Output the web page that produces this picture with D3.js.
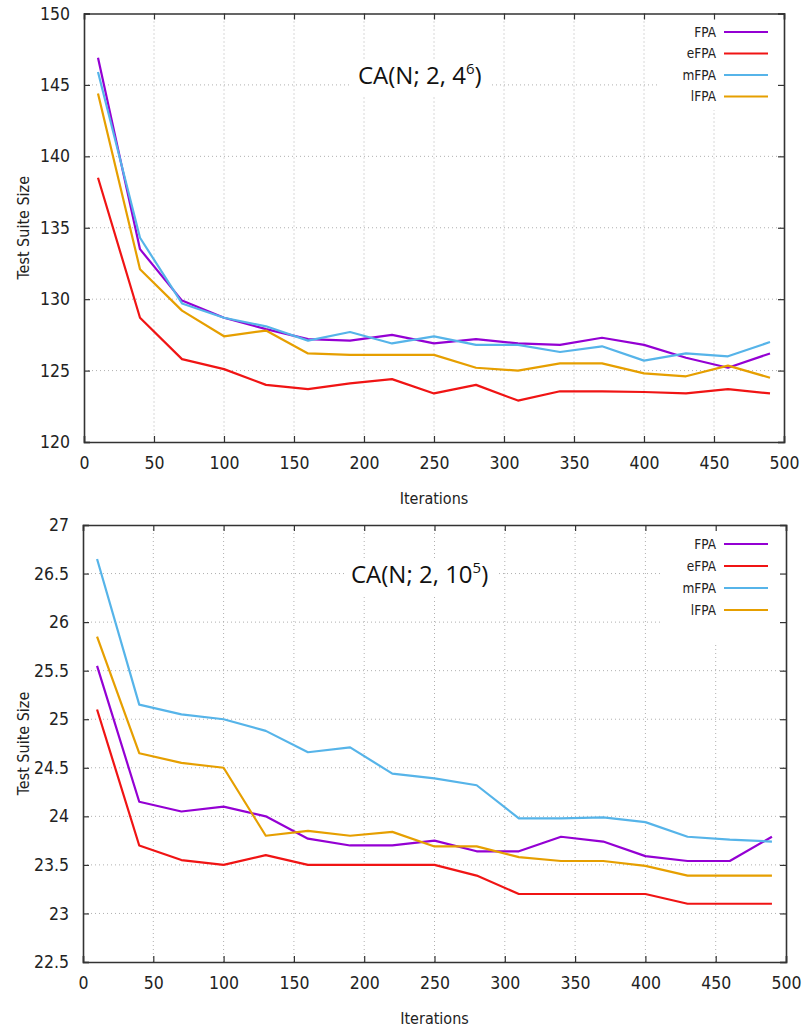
<!DOCTYPE html>
<html>
<head>
<meta charset="utf-8">
<script src="https://cdn.jsdelivr.net/npm/d3@7"></script>
<style>
  body { margin: 0; background: #fff; }
  svg { display: block; }
</style>
</head>
<body>
<div id="chart"></div>
<script>
// x positions (iterations) shared by both panels
let iterations = [10, 40, 70, 100, 130, 160, 190, 220, 250, 280, 310, 340, 370, 400, 430, 460, 490];

let seriesNames = ["FPA", "eFPA", "mFPA", "lFPA"];
let seriesColors = ["#9400d3", "#f01414", "#56b4e9", "#e69f00"];

// panel 1: CA(N; 2, 4^6)
let top_FPA  = [146.9, 133.5, 129.9, 128.7, 127.9, 127.2, 127.1, 127.5, 126.9, 127.2, 126.9, 126.8, 127.3, 126.8, 125.9, 125.2, 126.2];
let top_eFPA = [138.5, 128.7, 125.8, 125.1, 124.0, 123.7, 124.1, 124.4, 123.4, 124.0, 122.9, 123.55, 123.55, 123.5, 123.4, 123.7, 123.4];
let top_mFPA = [145.9, 134.3, 129.7, 128.7, 128.1, 127.1, 127.7, 126.9, 127.4, 126.8, 126.8, 126.3, 126.7, 125.7, 126.2, 126.0, 127.0];
let top_lFPA = [144.4, 132.1, 129.2, 127.4, 127.8, 126.2, 126.1, 126.1, 126.1, 125.2, 125.0, 125.5, 125.5, 124.8, 124.6, 125.35, 124.5];
let topYTicks = [120, 125, 130, 135, 140, 145, 150];

// panel 2: CA(N; 2, 10^5)
let bot_FPA  = [25.55, 24.15, 24.05, 24.1, 24.0, 23.77, 23.7, 23.7, 23.75, 23.64, 23.64, 23.79, 23.74, 23.59, 23.54, 23.54, 23.79];
let bot_eFPA = [25.1, 23.7, 23.55, 23.5, 23.6, 23.5, 23.5, 23.5, 23.5, 23.39, 23.2, 23.2, 23.2, 23.2, 23.1, 23.1, 23.1];
let bot_mFPA = [26.65, 25.15, 25.05, 25.0, 24.88, 24.66, 24.71, 24.44, 24.39, 24.32, 23.98, 23.98, 23.99, 23.94, 23.79, 23.76, 23.74];
let bot_lFPA = [25.85, 24.65, 24.55, 24.5, 23.8, 23.85, 23.8, 23.84, 23.69, 23.69, 23.58, 23.54, 23.54, 23.49, 23.39, 23.39, 23.39];
let botYTicks = [22.5, 23, 23.5, 24, 24.5, 25, 25.5, 26, 26.5, 27];

let xTicks = [0, 50, 100, 150, 200, 250, 300, 350, 400, 450, 500];

let svg = d3.select("#chart").append("svg")
  .attr("width", 802)
  .attr("height", 1032);

let tickFont = "'DejaVu Sans Condensed', 'DejaVu Sans', sans-serif";

function drawPanel(cfg) {
  let x = d3.scaleLinear().domain([0, 500]).range([cfg.left, cfg.right]);
  let y = d3.scaleLinear().domain(cfg.yDomain).range([cfg.bottom, cfg.top]);

  let g = svg.append("g");

  // dotted grid
  g.selectAll(".gx").data(xTicks.slice(1, -1)).enter().append("line")
    .attr("x1", d => x(d)).attr("x2", d => x(d))
    .attr("y1", cfg.top).attr("y2", cfg.bottom)
    .attr("stroke", "#b0b0b0").attr("stroke-width", 1)
    .attr("stroke-dasharray", "1,3");
  g.selectAll(".gy").data(cfg.yTicks.slice(1, -1)).enter().append("line")
    .attr("x1", cfg.left).attr("x2", cfg.right)
    .attr("y1", d => y(d)).attr("y2", d => y(d))
    .attr("stroke", "#b0b0b0").attr("stroke-width", 1)
    .attr("stroke-dasharray", "1,3");

  // white boxes masking the grid behind title and legend
  g.append("rect").attr("x", cfg.titleBox[0]).attr("y", cfg.titleBox[1])
    .attr("width", cfg.titleBox[2]).attr("height", cfg.titleBox[3]).attr("fill", "#fff");
  g.append("rect").attr("x", cfg.legendBox[0]).attr("y", cfg.legendBox[1])
    .attr("width", cfg.legendBox[2]).attr("height", cfg.legendBox[3]).attr("fill", "#fff");

  // lines
  let line = d3.line()
    .x((d, i) => x(iterations[i]))
    .y(d => y(d));

  g.selectAll(".series").data(cfg.series).enter().append("path")
    .attr("d", d => line(d))
    .attr("fill", "none")
    .attr("stroke", (d, i) => seriesColors[i])
    .attr("stroke-width", 2.2)
    .attr("stroke-linejoin", "round");

  // axes (ticks inward, mirrored)
  let axB = d3.axisBottom(x).tickValues(xTicks).tickSize(-6).tickPadding(15).tickFormat(d3.format("d"));
  let axT = d3.axisTop(x).tickValues(xTicks).tickSize(-6).tickFormat("");
  let axL = d3.axisLeft(y).tickValues(cfg.yTicks).tickSize(-6).tickPadding(14).tickFormat(cfg.yFormat);
  let axR = d3.axisRight(y).tickValues(cfg.yTicks).tickSize(-6).tickFormat("");

  let gb = g.append("g").attr("transform", `translate(0,${cfg.bottom})`).call(axB);
  let gt = g.append("g").attr("transform", `translate(0,${cfg.top})`).call(axT);
  let gl = g.append("g").attr("transform", `translate(${cfg.left},0)`).call(axL);
  let gr = g.append("g").attr("transform", `translate(${cfg.right},0)`).call(axR);

  [gb, gt, gl, gr].forEach(a => {
    a.select(".domain").attr("stroke", "#333").attr("stroke-width", 1.6);
    a.selectAll(".tick line").attr("stroke", "#333").attr("stroke-width", 1.2);
    a.selectAll("text").attr("font-family", tickFont).attr("font-size", 17.5).attr("fill", "#222");
  });

  // axis titles
  g.append("text")
    .attr("x", (cfg.left + cfg.right) / 2)
    .attr("y", cfg.bottom + 62)
    .attr("text-anchor", "middle")
    .attr("font-family", tickFont).attr("font-size", 16).attr("fill", "#222")
    .text("Iterations");
  g.append("text")
    .attr("transform", `translate(29,${(cfg.top + cfg.bottom) / 2}) rotate(-90)`)
    .attr("text-anchor", "middle")
    .attr("font-family", tickFont).attr("font-size", 16).attr("fill", "#222")
    .text("Test Suite Size");

  // chart title with superscript
  let t = g.append("text")
    .attr("x", cfg.titleX).attr("y", cfg.titleY)
    .attr("font-family", "'Open Sans', sans-serif").attr("font-size", 24).attr("fill", "#111");
  t.append("tspan").text(cfg.titleMain);
  t.append("tspan").attr("dy", -10).attr("font-size", 15).text(cfg.titleSup);
  t.append("tspan").attr("dy", 10).text(")");

  // legend
  let lg = g.selectAll(".leg").data(seriesNames).enter().append("g")
    .attr("transform", (d, i) => `translate(0,${cfg.legendY + i * cfg.legendStep})`);
  lg.append("text")
    .attr("x", 716).attr("y", 4.5)
    .attr("text-anchor", "end")
    .attr("font-family", tickFont).attr("font-size", 13.5).attr("fill", "#222")
    .text(d => d);
  lg.append("line")
    .attr("x1", 724).attr("x2", 768)
    .attr("stroke", (d, i) => seriesColors[i]).attr("stroke-width", 2.2);
}

drawPanel({
  left: 84, right: 784, top: 13.5, bottom: 442,
  yDomain: [120, 150], yTicks: topYTicks, yFormat: d3.format("d"),
  series: [top_FPA, top_eFPA, top_mFPA, top_lFPA],
  titleMain: "CA(N; 2, 4", titleSup: "6", titleX: 358, titleY: 84,
  titleBox: [352, 60, 140, 36],
  legendBox: [660, 15, 123, 95],
  legendY: 32, legendStep: 21.5
});

drawPanel({
  left: 83, right: 786, top: 525, bottom: 962,
  yDomain: [22.5, 27], yTicks: botYTicks, yFormat: d => d3.format("")(d),
  series: [bot_FPA, bot_eFPA, bot_mFPA, bot_lFPA],
  titleMain: "CA(N; 2, 10", titleSup: "5", titleX: 351, titleY: 583,
  titleBox: [345, 558, 152, 36],
  legendBox: [660, 527, 125, 118],
  legendY: 544, legendStep: 22
});
</script>
</body>
</html>
